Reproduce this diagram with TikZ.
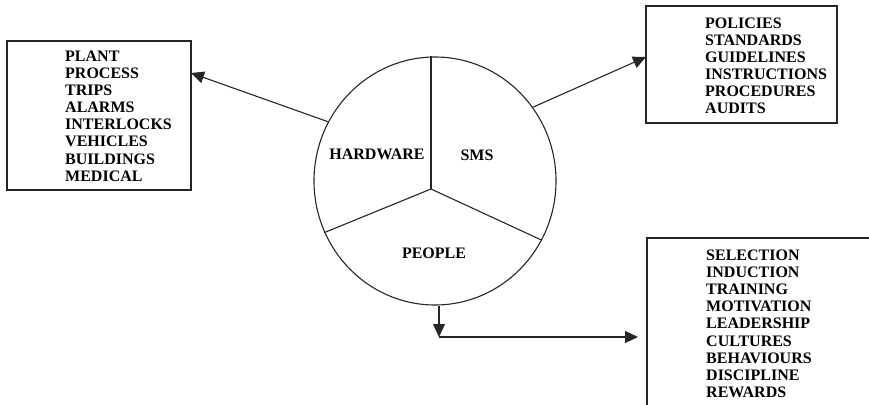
\documentclass[tikz,border=0pt]{standalone}
\usepackage{fontspec}
\setmainfont{Liberation Serif}
\usetikzlibrary{arrows.meta,shapes.geometric}
\begin{document}
\begin{tikzpicture}[x=1pt,y=-1pt,
  conn/.style={line width=1.1pt,draw=black!85},
  arr/.style={conn,-{Triangle[length=13pt,width=12pt]}},
  listbox/.style={draw=black!85,line width=1.1pt,rectangle},
  listtext/.style={anchor=north west,inner sep=0pt,align=left,
    font=\fontsize{16}{17.1}\selectfont\bfseries},
  seglabel/.style={inner sep=0pt,font=\fontsize{16}{17}\selectfont\bfseries}]
\useasboundingbox (0,0) rectangle (869,404);
\clip (0,0) rectangle (869,404);
% central ellipse
\node[ellipse,draw=black!85,line width=1.1pt,minimum width=242pt,minimum height=248pt,inner sep=0pt] (c) at (435,181) {};
\coordinate (j) at (431,189);
\draw[conn] (j) -- (j |- c.north);
\draw[conn] (j) -- (c.205.5);
\draw[conn] (j) -- (c.331);
\node[seglabel] (hw) at (377,154) {HARDWARE};
\node[seglabel] (sms) at (477,155) {SMS};
\node[seglabel] (ppl) at (434,253) {PEOPLE};
% boxes
\draw[listbox] (7,41) rectangle (191,190);
\coordinate (lbR) at (191,73);
\node[listtext] (lt) at (65,50.7) {PLANT\\PROCESS\\TRIPS\\ALARMS\\INTERLOCKS\\VEHICLES\\BUILDINGS\\MEDICAL};
\draw[listbox] (646,6) rectangle (837,123);
\coordinate (rbL) at (646,57);
\node[listtext] (rt) at (705,17.7) {POLICIES\\STANDARDS\\GUIDELINES\\INSTRUCTIONS\\PROCEDURES\\AUDITS};
\draw[listbox] (647,238) rectangle (890,430);
\node[listtext] (bt) at (706,249.7) {SELECTION\\INDUCTION\\TRAINING\\MOTIVATION\\LEADERSHIP\\CULTURES\\BEHAVIOURS\\DISCIPLINE\\REWARDS};
% arrows
\draw[arr] (c.151) -- (lbR);
\draw[arr] (c.37.8) -- (rbL);
\coordinate (bend) at (439,337);
\coordinate (btip) at (638,337);
\draw[arr] (c.south -| bend) -- (bend);
\draw[arr] (bend) -- (btip);
\end{tikzpicture}
\end{document}
